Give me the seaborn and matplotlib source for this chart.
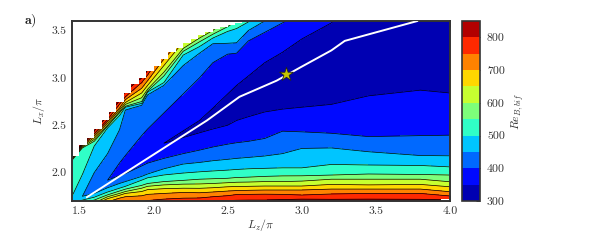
import numpy as np
import matplotlib
matplotlib.use("Agg")
import matplotlib.pyplot as plt
import seaborn as sns

# Lz/pi stations where the contour heights were read
lz_cols = [1.45, 1.52, 1.6, 1.69, 1.77, 1.81, 1.92, 1.96, 2.07, 2.2, 2.31,
           2.4, 2.5, 2.56, 2.64, 2.75, 2.87, 3.0, 3.2, 3.45, 3.8, 4.0]

# lowest Re in each column (wedge tips sit where this hits a level)
re_floor = [490, 450, 420, 400, 385, 375, 365, 360, 350, 310, 310,
            310, 310, 310, 310, 310, 310, 310, 310, 310, 310, 310]

# Re on each row of the mesh, going up in Lx: falls to the valley then rises
re_rows = [850, 800, 750, 700, 650, 600, 550, 500, 450, 400, 350, 300,
           350, 400, 450, 500, 550, 600, 650, 700, 750, 800, 850]

# Lx/pi of each row, one list per row, same order as re_rows
lx_rows = [
    [1.5, 1.54, 1.56, 1.58, 1.6, 1.6, 1.6, 1.61, 1.62, 1.63, 1.65, 1.66, 1.66, 1.66, 1.66, 1.66, 1.66, 1.67, 1.67, 1.67, 1.67, 1.67],
    [1.52, 1.57, 1.6, 1.62, 1.64, 1.65, 1.64, 1.65, 1.66, 1.68, 1.695, 1.70, 1.705, 1.708, 1.71, 1.71, 1.715, 1.72, 1.718, 1.72, 1.718, 1.71],
    [1.54, 1.6, 1.63, 1.65, 1.67, 1.68, 1.69, 1.705, 1.72, 1.73, 1.732, 1.745, 1.756, 1.768, 1.77, 1.772, 1.77, 1.763, 1.774, 1.78, 1.78, 1.753],
    [1.56, 1.63, 1.64, 1.69, 1.73, 1.745, 1.755, 1.77, 1.78, 1.79, 1.787, 1.795, 1.805, 1.81, 1.813, 1.816, 1.816, 1.816, 1.826, 1.826, 1.826, 1.798],
    [1.58, 1.64, 1.66, 1.725, 1.76, 1.78, 1.80, 1.82, 1.83, 1.835, 1.834, 1.84, 1.85, 1.853, 1.855, 1.858, 1.858, 1.858, 1.875, 1.87, 1.875, 1.85],
    [1.6, 1.66, 1.68, 1.745, 1.78, 1.80, 1.835, 1.855, 1.87, 1.878, 1.88, 1.885, 1.893, 1.898, 1.9, 1.905, 1.905, 1.91, 1.93, 1.93, 1.93, 1.903],
    [1.62, 1.68, 1.71, 1.765, 1.805, 1.825, 1.865, 1.885, 1.905, 1.918, 1.93, 1.935, 1.94, 1.948, 1.952, 1.96, 1.965, 1.966, 1.974, 1.985, 1.98, 1.974],
    [1.66, 1.71, 1.74, 1.795, 1.835, 1.855, 1.92, 1.945, 1.975, 1.995, 2.008, 2.017, 2.026, 2.033, 2.04, 2.045, 2.05, 2.05, 2.086, 2.08, 2.075, 2.06],
    [1.68, 1.75, 1.78, 1.84, 1.885, 1.905, 1.96, 1.985, 2.04, 2.09, 2.107, 2.125, 2.14, 2.15, 2.16, 2.175, 2.2, 2.255, 2.26, 2.22, 2.18, 2.177],
    [1.69, 1.75, 1.83, 1.92, 1.97, 1.99, 2.07, 2.1, 2.15, 2.2, 2.237, 2.27, 2.3, 2.315, 2.33, 2.36, 2.437, 2.43, 2.415, 2.38, 2.39, 2.395],
    [1.70, 1.75, 1.85, 1.92, 2.0, 2.03, 2.15, 2.2, 2.31, 2.37, 2.42, 2.46, 2.5, 2.55, 2.59, 2.64, 2.67, 2.69, 2.72, 2.81, 2.87, 2.84],
    [1.70, 1.75, 1.86, 1.92, 2.0, 2.03, 2.15, 2.2, 2.31, 2.41, 2.49, 2.58, 2.68, 2.75, 2.85, 2.93, 3.0, 3.1, 3.3, 3.5, 3.7, 3.8],
    [1.70, 1.75, 1.87, 1.92, 2.0, 2.03, 2.15, 2.2, 2.31, 2.44, 2.55, 2.68, 2.83, 2.92, 3.02, 3.16, 3.27, 3.41, 3.58, 3.9, 4.2, 4.4],
    [1.71, 1.75, 1.88, 1.92, 2.1, 2.18, 2.39, 2.46, 2.63, 2.83, 3.0, 3.16, 3.25, 3.26, 3.39, 3.48, 3.58, 3.7, 3.9, 4.1, 4.3, 4.5],
    [1.72, 1.75, 2.0, 2.2, 2.45, 2.66, 2.71, 2.82, 2.92, 3.13, 3.26, 3.36, 3.365, 3.37, 3.5, 3.6, 3.75, 3.85, 4.0, 4.2, 4.4, 4.6],
    [1.75, 1.98, 2.28, 2.47, 2.6, 2.69, 2.73, 2.85, 2.95, 3.24, 3.33, 3.42, 3.49, 3.52, 3.59, 3.7, 3.85, 3.95, 4.1, 4.3, 4.5, 4.7],
    [2.13, 2.26, 2.33, 2.49, 2.63, 2.7, 2.75, 2.86, 3.02, 3.28, 3.38, 3.46, 3.54, 3.6, 3.65, 3.8, 3.95, 4.05, 4.2, 4.4, 4.6, 4.8],
    [2.14, 2.27, 2.35, 2.5, 2.64, 2.72, 2.79, 2.88, 3.06, 3.31, 3.42, 3.5, 3.62, 3.68, 3.75, 3.85, 4.0, 4.1, 4.3, 4.5, 4.7, 4.9],
    [2.15, 2.28, 2.37, 2.52, 2.66, 2.74, 2.84, 2.92, 3.13, 3.38, 3.5, 3.62, 3.7, 3.74, 3.8, 3.9, 4.05, 4.2, 4.4, 4.6, 4.8, 5.0],
    [2.16, 2.29, 2.39, 2.54, 2.68, 2.77, 2.89, 2.97, 3.2, 3.42, 3.58, 3.68, 3.75, 3.8, 3.85, 3.95, 4.1, 4.3, 4.5, 4.7, 4.9, 5.1],
    [2.17, 2.30, 2.41, 2.56, 2.72, 2.8, 2.95, 3.03, 3.28, 3.48, 3.64, 3.74, 3.8, 3.85, 3.9, 4.0, 4.15, 4.4, 4.6, 4.8, 5.0, 5.2],
    [2.18, 2.31, 2.44, 2.6, 2.76, 2.86, 3.0, 3.08, 3.35, 3.54, 3.7, 3.8, 3.85, 3.9, 3.95, 4.05, 4.2, 4.5, 4.7, 4.9, 5.1, 5.3],
    [2.2, 2.35, 2.5, 2.68, 2.82, 2.92, 3.05, 3.14, 3.42, 3.6, 3.76, 3.86, 3.9, 3.95, 4.0, 4.1, 4.25, 4.6, 4.8, 5.0, 5.2, 5.4],
]

# staircase limit of the computed domain
edge_lz = [1.45, 1.5, 1.55, 1.6, 1.65, 1.7, 1.75, 1.8, 1.85, 1.9, 1.95, 2.0,
           2.05, 2.1, 2.15, 2.2, 2.25, 2.3, 2.35, 2.4, 2.45, 2.5, 2.55, 2.6]
edge_lx = [2.18, 2.29, 2.37, 2.46, 2.55, 2.64, 2.74, 2.84, 2.93, 3.0, 3.07, 3.13,
           3.2, 3.27, 3.32, 3.37, 3.41, 3.45, 3.48, 3.52, 3.54, 3.56, 3.58, 3.6]

# missing cell in the bottom right corner
hole_lz = [3.94, 4.0]
hole_lx = [1.72, 1.72]

# bifurcation ridge and the marked optimum
ridge_lz = [1.55, 2.36, 2.58, 2.83, 2.99, 3.2, 3.29, 3.78]
ridge_lx = [1.74, 2.55, 2.8, 2.97, 3.11, 3.29, 3.39, 3.6]
star_lz = [2.895]
star_lx = [3.045]

levels = list(range(300, 851, 50))
x_ticks = [1.5, 2.0, 2.5, 3.0, 3.5, 4.0]
y_ticks = [2.0, 2.5, 3.0, 3.5]
cbar_ticks = [300, 400, 500, 600, 700, 800]

sns.set_theme(style="ticks")
plt.rcParams['font.family'] = ['cmr10', 'DejaVu Sans']
plt.rcParams['axes.formatter.use_mathtext'] = True
plt.rcParams['mathtext.fontset'] = 'cm'

DARK = '#333333'

X = np.tile(np.array(lz_cols), (len(re_rows), 1))
Y = np.array(lx_rows)
Z = np.maximum.outer(np.array(re_rows), np.array(re_floor))

fig = plt.figure(figsize=(6, 2.4), dpi=100)
ax = fig.add_axes([72 / 600, 1 - 201 / 240, 378 / 600, 180 / 240])
cax = fig.add_axes([462 / 600, 1 - 201 / 240, 18 / 600, 180 / 240])

filled = ax.contourf(X, Y, Z, levels=levels, cmap='jet', vmin=300, vmax=850)
ax.contour(X, Y, Z, levels=levels[:-1], colors='black', linewidths=0.5)

ax.fill_between(edge_lz + [1.45], edge_lx + [3.7], 3.7, step='post', color='white',
                linewidth=0, zorder=2.2)
ax.fill_between(hole_lz, 1.7, hole_lx, color='white', linewidth=0, zorder=2.2)

sns.lineplot(x=ridge_lz, y=ridge_lx, ax=ax, color='white', linewidth=1.4,
             sort=False, estimator=None, zorder=3)
sns.scatterplot(x=star_lz, y=star_lx, ax=ax, marker='*', s=110, color='#c4c400',
                edgecolor='#222222', linewidth=0.6, zorder=4)

ax.set_xlim(1.45, 4.0)
ax.set_ylim(1.7, 3.6)
ax.set_xticks(x_ticks)
ax.set_yticks(y_ticks)
ax.set_xticklabels([f'{v:.1f}' for v in x_ticks])
ax.set_yticklabels([f'{v:.1f}' for v in y_ticks])
ax.tick_params(direction='in', top=True, right=True, length=4, width=0.6,
               color=DARK, labelcolor=DARK, labelsize=8.5, pad=4)
ax.set_xlabel(r'$L_z/\pi$', fontsize=8.5, color=DARK, labelpad=1)
ax.set_ylabel(r'$L_x/\pi$', fontsize=8.5, color=DARK, labelpad=3)
for s in ax.spines.values():
    s.set_linewidth(1.4)
    s.set_color(DARK)

cb = fig.colorbar(filled, cax=cax)
cb.set_ticks(cbar_ticks)
cb.set_ticklabels([str(v) for v in cbar_ticks])
cb.ax.tick_params(direction='in', length=3, width=0.6, color=DARK, labelcolor=DARK,
                  labelsize=8.5, pad=5)
cb.set_label(r'$Re_{B,bif}$', fontsize=8.5, color=DARK, labelpad=3)
cb.outline.set_linewidth(1.2)
cb.outline.set_edgecolor(DARK)

fig.text(24 / 600, 1 - 24 / 240, r'$\mathbf{a)}$', fontsize=10, color='#222222')

fig.savefig('out.png', dpi=100)
